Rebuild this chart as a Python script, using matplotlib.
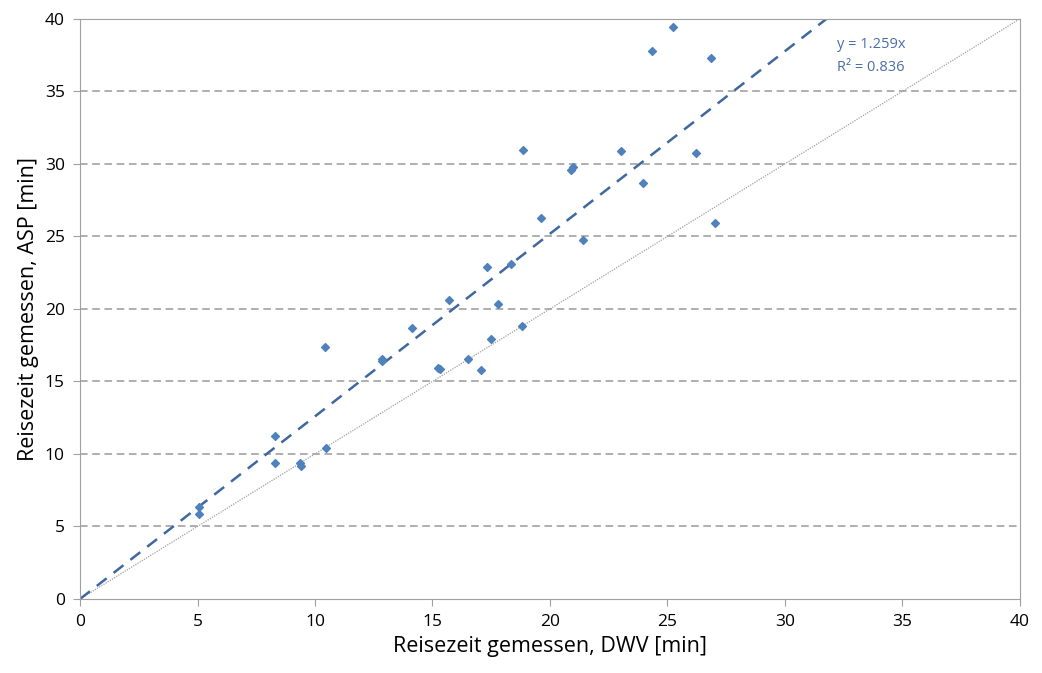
import numpy as np
import matplotlib; matplotlib.use('agg')
import matplotlib.pyplot as plt

# travel times (DWV vs ASP, minutes)
dwv = [5.05, 5.05, 8.3, 8.3, 9.36, 9.4, 10.43, 10.47, 12.85, 12.87, 14.13,
       15.23, 15.3, 15.7, 16.51, 17.06, 17.32, 17.49, 17.79, 18.34, 18.81,
       18.85, 19.62, 20.9, 20.98, 21.4, 23.02, 23.96, 24.34, 25.23, 26.21,
       26.85, 27.02]
asp = [6.34, 5.86, 11.24, 9.38, 9.38, 9.17, 17.38, 10.41, 16.55, 16.4, 18.69,
       15.93, 15.86, 20.62, 16.55, 15.79, 22.9, 17.93, 20.34, 23.1, 18.83,
       30.97, 26.28, 29.59, 29.79, 24.76, 30.9, 28.69, 37.79, 39.45, 30.76,
       37.31, 25.93]
slope = 1.259
r2 = 0.836

plt.rcParams['font.family'] = ['Open Sans', 'DejaVu Sans']

fig = plt.figure(figsize=(10.42, 6.73), dpi=100)
ax = fig.add_axes([0.0768, 0.11, 0.902, 0.862])

# gridlines
for g in range(5, 40, 5):
    ax.axhline(g, color='#9a9a9a', lw=1.1, ls=(0, (5, 3)), zorder=0)

# 1:1 line
ax.plot([0, 40], [0, 40], color='#a0a0a0', lw=0.9, ls=(0, (1, 1)), zorder=1)

# trendline
xt = np.array([0, 40 / slope])
ax.plot(xt, slope * xt, color='#3f67a0', lw=1.8, ls=(0, (5, 3.5)), zorder=2)

ax.scatter(dwv, asp, marker='D', s=16, color='#4f81bd', zorder=3)

ax.text(32.2, 38.2, f'y = {slope}x', color='#4a6fa5', fontsize=10.5, va='center')
ax.text(32.2, 36.65, f'R² = {r2}', color='#4a6fa5', fontsize=10.5, va='center')

ax.set_xlim(0, 40)
ax.set_ylim(0, 40)
ax.set_xticks(range(0, 41, 5))
ax.set_yticks(range(0, 41, 5))
for s in ax.spines.values():
    s.set_color('#a0a0a0')
ax.tick_params(direction='out', length=5, color='#a0a0a0', labelsize=12.5, pad=6)
ax.set_xlabel('Reisezeit gemessen, DWV [min]', fontsize=15.5)
ax.set_ylabel('Reisezeit gemessen, ASP [min]', fontsize=15.5)

fig.savefig('out.png', dpi=100)
